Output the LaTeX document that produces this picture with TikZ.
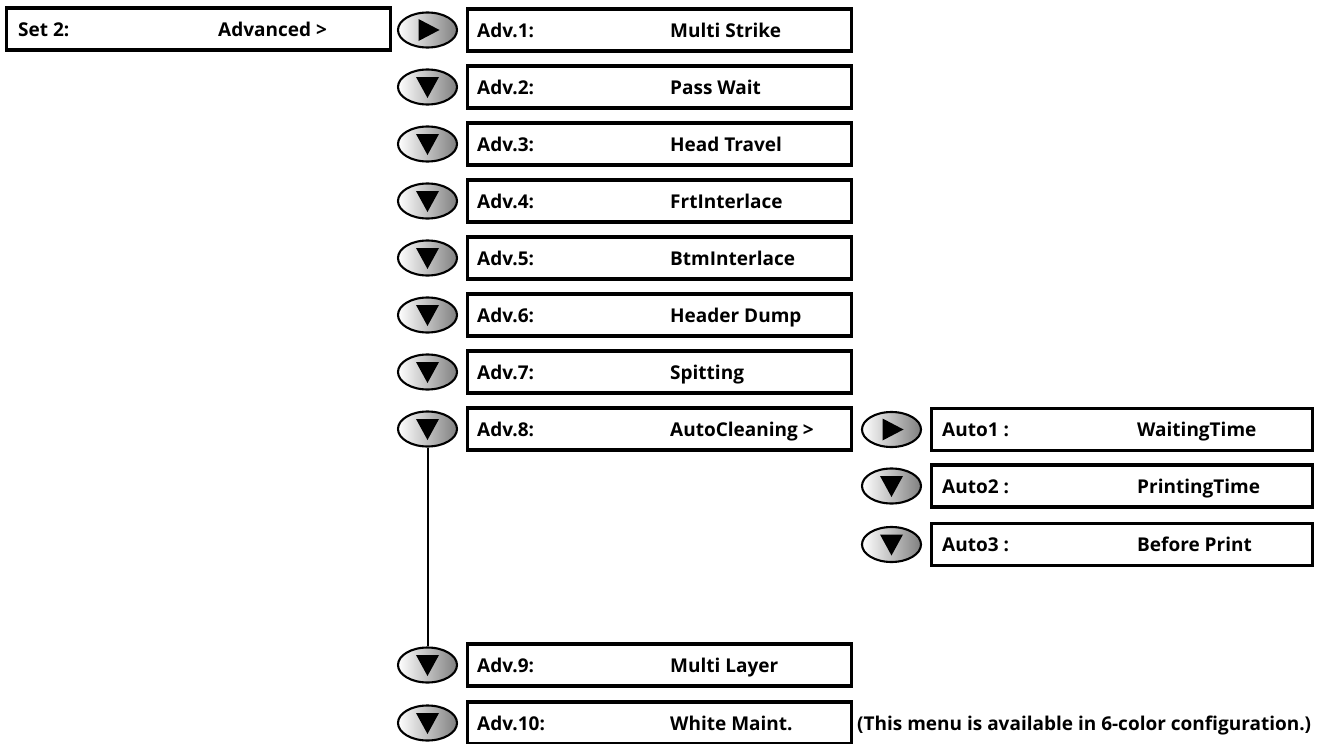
\documentclass[tikz,border=0pt]{standalone}
\usepackage{fontspec}
\setmainfont{Open Sans}
\usetikzlibrary{shapes.geometric}
\tikzset{
  menubox/.style={draw, line width=3.3pt, minimum width=384pt, minimum height=42pt, inner sep=0pt},
  autobox/.style={menubox, minimum width=381pt},
  btn/.style={ellipse, draw, line width=2.1pt, minimum width=59pt, minimum height=35pt, inner sep=0pt, left color=white, middle color=black!12, right color=black!50},
  lbl/.style={anchor=base west, inner sep=0pt, font=\bfseries\fontsize{19}{22}\selectfont},
  tri/.style={fill=black},
  link/.style={line width=2pt}
}
\newcommand{\downbtn}[3]{%
  \node[btn] (#1) at (#2,#3) {};
  \fill[tri] ([shift={(-11.5,-10)}]#1.center) -- ++(23,0) -- ++(-11.5,21) -- cycle;}
\newcommand{\rightbtn}[3]{%
  \node[btn] (#1) at (#2,#3) {};
  \fill[tri] ([shift={(-9,-11)}]#1.center) -- ++(0,22) -- ++(21,-11) -- cycle;}
\begin{document}
\begin{tikzpicture}[x=1pt,y=-1pt]
\useasboundingbox (0,0) rectangle (1318,744);
% Set 2
\node[menubox] (set) at (198.5,29) {};
\node[lbl] (setA) at (18,36) {Set 2:};
\node[lbl] (setB) at (218,36) {Advanced >};
% Adv rows
\rightbtn{b1}{427.5}{30}
\node[menubox] (a1) at (659.5,30) {};
\node[lbl] (a1l) at (477,37) {Adv.1:};
\node[lbl] (a1v) at (670,37) {Multi Strike};
\downbtn{b2}{427.5}{87}
\node[menubox] (a2) at (659.5,87) {};
\node[lbl] (a2l) at (477,94) {Adv.2:};
\node[lbl] (a2v) at (670,94) {Pass Wait};
\downbtn{b3}{427.5}{144}
\node[menubox] (a3) at (659.5,144) {};
\node[lbl] (a3l) at (477,151) {Adv.3:};
\node[lbl] (a3v) at (670,151) {Head Travel};
\downbtn{b4}{427.5}{201}
\node[menubox] (a4) at (659.5,201) {};
\node[lbl] (a4l) at (477,208) {Adv.4:};
\node[lbl] (a4v) at (670,208) {FrtInterlace};
\downbtn{b5}{427.5}{258}
\node[menubox] (a5) at (659.5,258) {};
\node[lbl] (a5l) at (477,265) {Adv.5:};
\node[lbl] (a5v) at (670,265) {BtmInterlace};
\downbtn{b6}{427.5}{315}
\node[menubox] (a6) at (659.5,315) {};
\node[lbl] (a6l) at (477,322) {Adv.6:};
\node[lbl] (a6v) at (670,322) {Header Dump};
\downbtn{b7}{427.5}{372}
\node[menubox] (a7) at (659.5,372) {};
\node[lbl] (a7l) at (477,379) {Adv.7:};
\node[lbl] (a7v) at (670,379) {Spitting};
\downbtn{b8}{427.5}{429}
\node[menubox] (a8) at (659.5,429) {};
\node[lbl] (a8l) at (477,436) {Adv.8:};
\node[lbl] (a8v) at (670,436) {AutoCleaning >};
\downbtn{b9}{427.5}{665}
\node[menubox] (a9) at (659.5,665) {};
\node[lbl] (a9l) at (477,672) {Adv.9:};
\node[lbl] (a9v) at (670,672) {Multi Layer};
\downbtn{b10}{427.5}{723}
\node[menubox] (a10) at (659.5,723) {};
\node[lbl] (a10l) at (477,730) {Adv.10:};
\node[lbl] (a10v) at (670,730) {White Maint.};
\node[lbl] (note) at (857,730) {(This menu is available in 6-color configuration.)};
% Auto rows
\rightbtn{c1}{891.5}{429.5}
\node[autobox] (u1) at (1122,429.5) {};
\node[lbl] (u1l) at (942,436.5) {Auto1 :};
\node[lbl] (u1v) at (1137,436.5) {WaitingTime};
\downbtn{c2}{891.5}{486}
\node[autobox] (u2) at (1122,486) {};
\node[lbl] (u2l) at (942,493) {Auto2 :};
\node[lbl] (u2v) at (1137,493) {PrintingTime};
\downbtn{c3}{891.5}{544.5}
\node[autobox] (u3) at (1122,544.5) {};
\node[lbl] (u3l) at (942,551.5) {Auto3 :};
\node[lbl] (u3v) at (1137,551.5) {Before Print};
% connector
\draw[link] (b8.south) -- (b9.north);
\end{tikzpicture}
\end{document}
